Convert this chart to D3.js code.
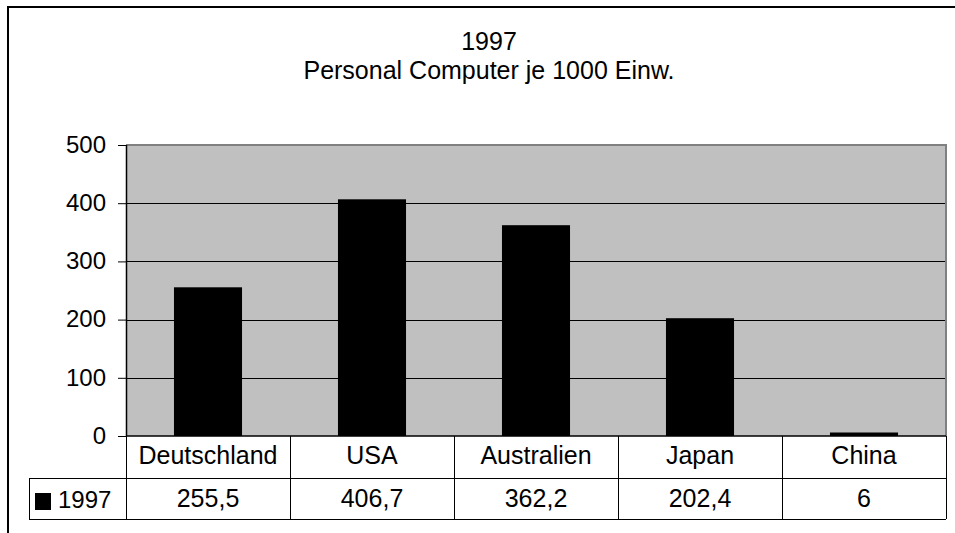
<!DOCTYPE html>
<html>
<head>
<meta charset="utf-8">
<script src="https://cdn.jsdelivr.net/npm/d3@7"></script>
<style>
  html, body { margin: 0; padding: 0; background: #fff; }
  svg { display: block; font-family: "Liberation Sans", Arial, sans-serif; }
</style>
</head>
<body>
<svg id="chart" width="955" height="533"></svg>
<script>
// Chart data
const titleLines = ["1997", "Personal Computer je 1000 Einw."];
const categories = ["Deutschland", "USA", "Australien", "Japan", "China"];
const seriesName = "1997";
const values = [255.5, 406.7, 362.2, 202.4, 6];
const yTicks = [0, 100, 200, 300, 400, 500];

const svg = d3.select("#chart");
const W = 955, H = 533;
const plot = { left: 126, right: 946, top: 145, bottom: 436 };
const rowH1 = 42, rowH2 = 41;
const legendLeft = 29;
const textSize = 25;
const tickSize = 24;

// German number format (decimal comma)
const de = d3.formatLocale({ decimal: ",", thousands: ".", grouping: [3], currency: ["", " €"] });
const fmt = v => de.format(",")(v);

// Outer frame
svg.append("rect")
  .attr("x", 8).attr("y", 7)
  .attr("width", W + 20).attr("height", H + 20)
  .attr("fill", "#fff").attr("stroke", "#000").attr("stroke-width", 2);

// Title
const title = svg.append("text")
  .attr("text-anchor", "middle")
  .attr("font-size", textSize)
  .attr("fill", "#000");
title.selectAll("tspan").data(titleLines).join("tspan")
  .attr("x", 489)
  .attr("y", (d, i) => 50 + i * 29)
  .text(d => d);

// Scales
const x = d3.scaleBand().domain(categories).range([plot.left, plot.right]).padding(0);
const y = d3.scaleLinear().domain([0, 500]).range([plot.bottom, plot.top]);
const barW = x.bandwidth() * 0.415;

// Plot background
svg.append("rect")
  .attr("x", plot.left).attr("y", plot.top)
  .attr("width", plot.right - plot.left).attr("height", plot.bottom - plot.top)
  .attr("fill", "#c0c0c0");

// Gridlines
svg.append("g").selectAll("line").data(yTicks.filter(t => t > 0 && t < 500)).join("line")
  .attr("x1", plot.left).attr("x2", plot.right)
  .attr("y1", d => Math.round(y(d)) + 0.5).attr("y2", d => Math.round(y(d)) + 0.5)
  .attr("stroke", "#000").attr("stroke-width", 1);

// Plot frame top/right (grey)
svg.append("path")
  .attr("d", `M${plot.left},${plot.top} H${plot.right} V${plot.bottom}`)
  .attr("fill", "none").attr("stroke", "#808080").attr("stroke-width", 2);

// Bars
svg.append("g").selectAll("rect").data(values).join("rect")
  .attr("x", (d, i) => x(categories[i]) + (x.bandwidth() - barW) / 2)
  .attr("y", d => y(d))
  .attr("width", barW)
  .attr("height", d => y(0) - y(d))
  .attr("fill", "#000");

// Y axis
const yAxis = d3.axisLeft(y).tickValues(yTicks).tickSize(8).tickPadding(12).tickFormat(d3.format("d"));
const ga = svg.append("g")
  .attr("transform", `translate(${plot.left},0)`)
  .call(yAxis);
ga.select(".domain").attr("stroke", "#000").attr("stroke-width", 1.5).attr("d", `M0.5,${plot.top}V${plot.bottom}`);
ga.selectAll(".tick line").attr("stroke", "#000");
ga.selectAll(".tick text")
  .attr("font-size", tickSize)
  .attr("font-family", "Liberation Sans, Arial, sans-serif")
  .attr("fill", "#000")
  .attr("dy", "0.3em");

// Zero line
svg.append("line")
  .attr("x1", plot.left).attr("x2", plot.right)
  .attr("y1", y(0)).attr("y2", y(0))
  .attr("stroke", "#000").attr("stroke-width", 1.5);

// Data table
const t0 = plot.bottom, t1 = t0 + rowH1, t2 = t1 + rowH2;
const tbl = svg.append("g").attr("stroke", "#000").attr("stroke-width", 1);
// horizontal rules
tbl.append("line").attr("x1", legendLeft).attr("x2", plot.right).attr("y1", t1 + 0.5).attr("y2", t1 + 0.5);
tbl.append("line").attr("x1", legendLeft).attr("x2", plot.right).attr("y1", t2 + 0.5).attr("y2", t2 + 0.5);
// vertical rules
tbl.append("line").attr("x1", legendLeft + 0.5).attr("x2", legendLeft + 0.5).attr("y1", t1).attr("y2", t2);
const bounds = categories.map(c => x(c)).concat([plot.right]);
tbl.selectAll("line.v").data(bounds).join("line").attr("class", "v")
  .attr("x1", d => Math.round(d) + 0.5).attr("x2", d => Math.round(d) + 0.5)
  .attr("y1", t0).attr("y2", t2);

// Category labels
svg.append("g").selectAll("text").data(categories).join("text")
  .attr("x", d => x(d) + x.bandwidth() / 2)
  .attr("y", t0 + 28)
  .attr("text-anchor", "middle")
  .attr("font-size", textSize)
  .text(d => d);

// Value labels
svg.append("g").selectAll("text").data(values).join("text")
  .attr("x", (d, i) => x(categories[i]) + x.bandwidth() / 2)
  .attr("y", t1 + 29)
  .attr("text-anchor", "middle")
  .attr("font-size", textSize)
  .text(d => fmt(d));

// Legend key
svg.append("rect")
  .attr("x", 35).attr("y", 493).attr("width", 16).attr("height", 17)
  .attr("fill", "#000");
svg.append("text")
  .attr("x", 58).attr("y", t1 + 30)
  .attr("font-size", 24)
  .text(seriesName);
</script>
</body>
</html>
